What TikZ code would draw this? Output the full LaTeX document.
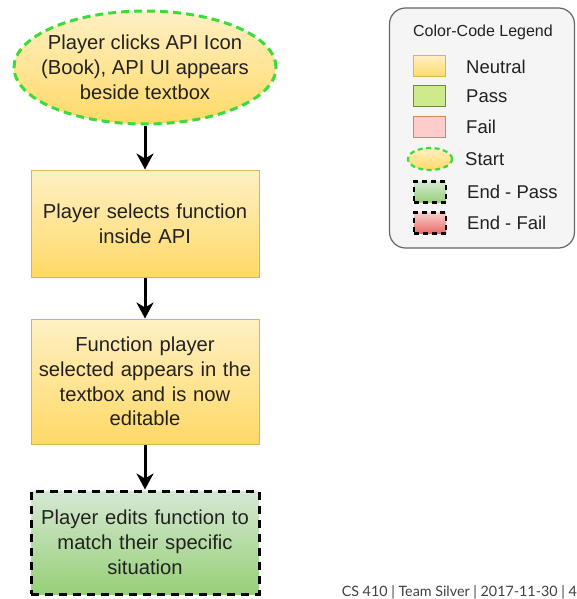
\documentclass[tikz,border=0pt]{standalone}
\usepackage{fontspec}
\setmainfont{Liberation Sans}
\newfontfamily\footfont{Lato}
\usetikzlibrary{shapes.geometric,arrows.meta}
\definecolor{ylwtop}{HTML}{FFF0C4}
\definecolor{ylwbot}{HTML}{FFD966}
\definecolor{ylwline}{HTML}{D6B656}
\definecolor{grntop}{HTML}{D5E8D4}
\definecolor{grnbot}{HTML}{97D077}
\definecolor{startline}{HTML}{3BDB3B}
\definecolor{passfill}{HTML}{CDEB8B}
\definecolor{passline}{HTML}{6D8C3E}
\definecolor{failfill}{HTML}{FFCCCC}
\definecolor{failline}{HTML}{C98A5E}
\definecolor{redtop}{HTML}{F8CECC}
\definecolor{redbot}{HTML}{EA6B66}
\definecolor{legfill}{HTML}{F5F5F5}
\definecolor{legline}{HTML}{666666}
\definecolor{inktext}{HTML}{222222}
\begin{document}
\begin{tikzpicture}[x=1pt,y=-1pt,
  every node/.style={text=inktext},
  boxfont/.style={font=\fontsize{20.2}{24.8}\selectfont},
  startnode/.style={ellipse, minimum width=262pt, minimum height=113pt, inner sep=0pt,
    top color=ylwtop, bottom color=ylwbot, draw=startline, line width=3pt,
    dash pattern=on 8pt off 5pt},
  neutral/.style={rectangle, minimum width=228pt, inner sep=0pt, text width=224pt,
    top color=ylwtop, bottom color=ylwbot, draw=ylwline, line width=1pt,
    align=center, boxfont},
  endpass/.style={rectangle, minimum width=228pt, inner sep=0pt, text width=224pt,
    top color=grntop, bottom color=grnbot, draw=black, line width=3pt,
    dash pattern=on 8pt off 6pt, align=center, boxfont},
  flow/.style={draw=black, line width=3pt, -{Stealth[length=16pt,width=17pt,inset=5pt]}},
  swatch/.style={rectangle, minimum width=32pt, minimum height=21pt, inner sep=0pt, line width=1pt},
  legtext/.style={anchor=west, inner sep=0pt, font=\fontsize{18.5}{22}\selectfont}
]
\useasboundingbox (0,0) rectangle (577,599);

% flow chart
\node[startnode] (start) at (145,67.5) {};
\node[align=center, inner sep=0pt, boxfont] (startlabel) at (start.center)
  {Player clicks API Icon\\(Book), API UI appears\\beside textbox};
\node[neutral, minimum height=107pt] (select) at (145,223.5)
  {Player selects function\\inside API};
\node[neutral, minimum height=125pt] (appear) at (145,381.5)
  {Function player\\selected appears in the\\textbox and is now\\editable};
\node[endpass, minimum height=103pt] (edit) at (145,542.5)
  {Player edits function to\\match their specific\\situation};

\draw[flow] (start.south) -- (select.north);
\draw[flow] (select.south) -- (appear.north);
\draw[flow] (appear.south) -- (edit.north);

% legend
\node[rectangle, rounded corners=16pt, minimum width=185pt, minimum height=240pt,
  fill=legfill, draw=legline, line width=1.2pt] (legend) at (482,128) {};
\node[font=\fontsize{16}{19}\selectfont] (legtitle) at (483,32) {Color-Code Legend};

\node[swatch, top color=ylwtop, bottom color=ylwbot, draw=ylwline] (sNeutral) at (429,66.5) {};
\node[swatch, fill=passfill, draw=passline] (sPass) at (429,96.5) {};
\node[swatch, fill=failfill, draw=failline] (sFail) at (429,127) {};
\node[ellipse, minimum width=44pt, minimum height=22pt, inner sep=0pt,
  top color=ylwtop, bottom color=ylwbot, draw=startline, line width=2.2pt,
  dash pattern=on 5pt off 3.5pt] (sStart) at (430,159) {};
\node[swatch, top color=grntop, bottom color=grnbot, draw=black, line width=2.2pt,
  dash pattern=on 5pt off 4pt] (sEndPass) at (430,192) {};
\node[swatch, top color=redtop, bottom color=redbot, draw=black, line width=2.2pt,
  dash pattern=on 5pt off 4pt] (sEndFail) at (430,223) {};

\node[legtext] (tNeutral) at (466,66.5) {Neutral};
\node[legtext] (tPass) at (466,96.5) {Pass};
\node[legtext] (tFail) at (466,127) {Fail};
\node[legtext] (tStart) at (465,159) {Start};
\node[legtext] (tEndPass) at (467,192) {End - Pass};
\node[legtext] (tEndFail) at (467,223) {End - Fail};

% footer
\node[anchor=east, inner sep=0pt, text=black!75, font=\footfont\fontsize{14.3}{17}\selectfont] (footer) at (577,592)
  {CS 410 | Team Silver | 2017-11-30 | 4};
\end{tikzpicture}
\end{document}
